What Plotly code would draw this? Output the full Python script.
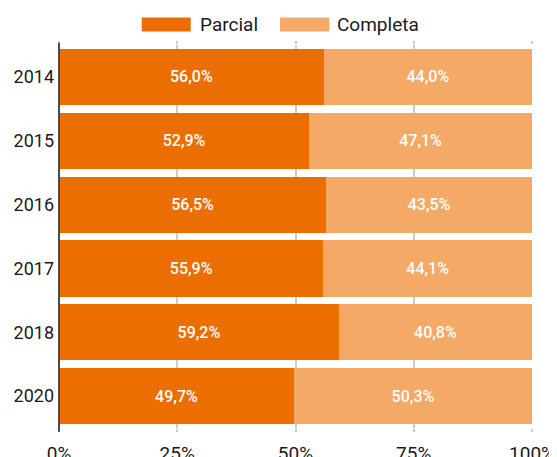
import plotly.graph_objects as go

years = ["2014", "2015", "2016", "2017", "2018", "2020"]
parcial = [56.0, 52.9, 56.5, 55.9, 59.2, 49.7]
completa = [44.0, 47.1, 43.5, 44.1, 40.8, 50.3]
series_names = ["Parcial", "Completa"]
colors = ["#EC6E00", "#F4A966"]
x_ticks = [0, 25, 50, 75, 100]
x_tick_labels = ["0%", "25%", "50%", "75%", "100%"]

FONT = "Roboto"

def fmt(v):
    return f"{v:.1f}".replace(".", ",") + "%"

fig = go.Figure()
for name, vals, col in zip(series_names, [parcial, completa], colors):
    fig.add_trace(go.Bar(
        y=years, x=vals, orientation="h", name=name,
        marker=dict(color=col, line=dict(width=0)),
        text=[fmt(v) for v in vals], textposition="inside",
        insidetextanchor="middle",
        textfont=dict(family=FONT, size=16, color="white", weight=500),
        showlegend=False, hoverinfo="skip",
    ))

# the page body adds an 8px offset; target pixels below are screen pixels
OFF = 8
W, H = 557, 457
plot_left, plot_right, plot_top, plot_bottom = 59, 532, 45, 428
L = plot_left - OFF
R = W - (plot_right - OFF)
T = plot_top - OFF
B = H - (plot_bottom - OFF)
pw = W - L - R
ph = H - T - B

def px_x(x):
    return (x - OFF - L) / pw

def px_y(y):
    return (H - B - (y - OFF)) / ph

# custom legend (wide swatches like the reference)
legend_items = [(141.7, 190.7, 198), (280, 329.3, 335)]
for (x0, x1, tx), name, col in zip(legend_items, series_names, colors):
    fig.add_shape(type="rect", xref="paper", yref="paper",
                  x0=px_x(x0), x1=px_x(x1), y0=px_y(31.5), y1=px_y(17.5),
                  fillcolor=col, line=dict(width=0))
    fig.add_annotation(xref="paper", yref="paper", x=px_x(tx), y=px_y(24.5),
                       text=name, showarrow=False, xanchor="left", yanchor="middle",
                       font=dict(family=FONT, size=19, color="#1a1a1a"))

# left axis line extending beyond plot area
fig.add_shape(type="line", xref="paper", yref="paper",
              x0=0, x1=0, y0=px_y(431.7), y1=px_y(42.7),
              line=dict(color="#4a4a4a", width=2), layer="above")

fig.update_layout(
    width=W, height=H,
    margin=dict(l=L, r=R, t=T, b=B, pad=0, autoexpand=False),
    barmode="stack", bargap=0.12,
    plot_bgcolor="white", paper_bgcolor="white",
    font=dict(family=FONT, color="#1a1a1a"),
    xaxis=dict(range=[0, 100], tickvals=x_ticks, ticktext=x_tick_labels,
               automargin=False,
               showgrid=True, gridcolor="#cccccc", gridwidth=1.5,
               ticks="outside", ticklen=3, tickcolor="#cccccc", tickwidth=1.5,
               mirror="ticks", showline=False, zeroline=False,
               ticklabelstandoff=5,
               tickfont=dict(family=FONT, size=19, color="#1a1a1a"),
               fixedrange=True),
    yaxis=dict(type="category", autorange="reversed", showgrid=False,
               automargin=False,
               showline=False, zeroline=False, ticks="",
               ticklabelstandoff=4,
               tickfont=dict(family=FONT, size=18, color="#1a1a1a")),
    showlegend=False,
)

fig.write_html("out.html")
